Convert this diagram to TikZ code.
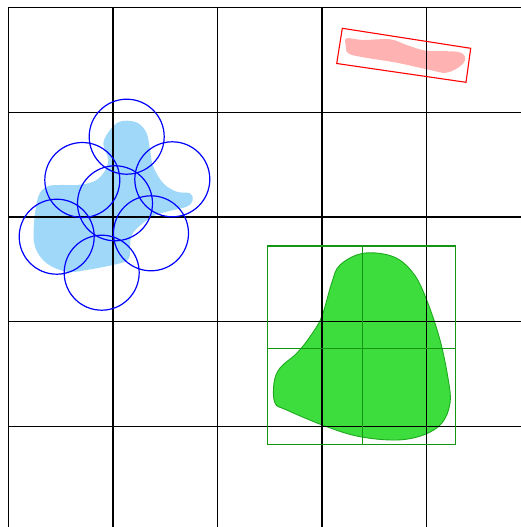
\documentclass[tikz,border=0pt]{standalone}
\begin{document}
\begin{tikzpicture}[x=1pt,y=-1pt,
  gridline/.style={draw=black,line width=1.3pt},
  cell/.style={draw=blue,line width=1.2pt},
  bluefill/.style={fill={rgb,255:red,160;green,216;blue,250}},
  greenblob/.style={fill={rgb,255:red,61;green,221;blue,61},draw={rgb,255:red,30;green,170;blue,30},line width=0.9pt},
  greengrid/.style={draw={rgb,255:red,20;green,150;blue,20},line width=1.2pt},
  redbox/.style={draw=red,line width=1.1pt},
  redblob/.style={fill={rgb,255:red,255;green,178;blue,178}}]
\useasboundingbox (0,0) rectangle (521,527);
% blue blob
\path[bluefill] plot[smooth cycle,tension=0.6] coordinates {
 (126.7,120.7) (138.3,123.3) (146.7,133.3) (150,150) (153.3,166.7) (163.3,183.3)
 (176.7,191.7) (190,193.3) (192.7,200) (186.7,206.7) (166.7,211.7) (150,218)
 (133,233) (130,246.7) (129,258.3) (120,263.3) (86.7,270) (66.7,271.7) (46.7,263.3)
 (35,246.7) (34,223.3) (38.3,196.7) (46.7,186.7) (60,185) (76.7,185) (93.3,181.7)
 (103.3,173.3) (108.3,160) (103.3,143.3) (110,130) (118,122.5)};
% green blob
\path[greenblob] plot[smooth cycle,tension=0.6] coordinates {
 (363.3,253.3) (393.3,256.7) (413.3,273.3) (426.7,300) (440,340) (448.3,380)
 (450,403.3) (441.7,423.3) (423.3,435) (396.7,440) (360,436.7) (326.7,426.7)
 (286.7,410) (275,403) (274,383) (280,368) (296.7,353.3) (310,336.7) (321.7,316.7)
 (331.7,283) (340,265)};
% red blob
\path[redblob] plot[smooth cycle,tension=0.6] coordinates {
 (346.7,38.3) (363.3,40) (390,39.3) (406.7,45) (426.7,50.7) (456.7,51.7) (465,56.7)
 (461.7,65) (446.7,72.7) (430,70) (396.7,62.7) (363.3,57.3) (348.3,53.3) (345.7,45)};
% black grid
\foreach \v in {8.3,112.9,217.5,322.1,426.7} {
  \draw[gridline] (\v,7.7) -- (\v,527);
}
\foreach \h in {7.7,112.5,217.1,321.7,426.3} {
  \draw[gridline] (8.3,\h) -- (521,\h);
}
% green grid
\draw[greengrid] (267.3,246) rectangle (455.5,444.3);
\draw[greengrid] (362.3,246) -- (362.3,444.3);
\draw[greengrid] (267.3,348.3) -- (455.5,348.3);
% red box
\draw[redbox] (342.3,28.3) -- (470.7,48.3) -- (466,82.3) -- (336.7,63.5) -- cycle;
% blue circles
\foreach \x/\y in {126.7/136.7, 82.3/180, 172.3/179.3, 115/203.3, 56.7/236.7, 151/233.3, 101.7/272.7} {
  \draw[cell] (\x,\y) circle[radius=37.5];
}
\end{tikzpicture}
\end{document}
